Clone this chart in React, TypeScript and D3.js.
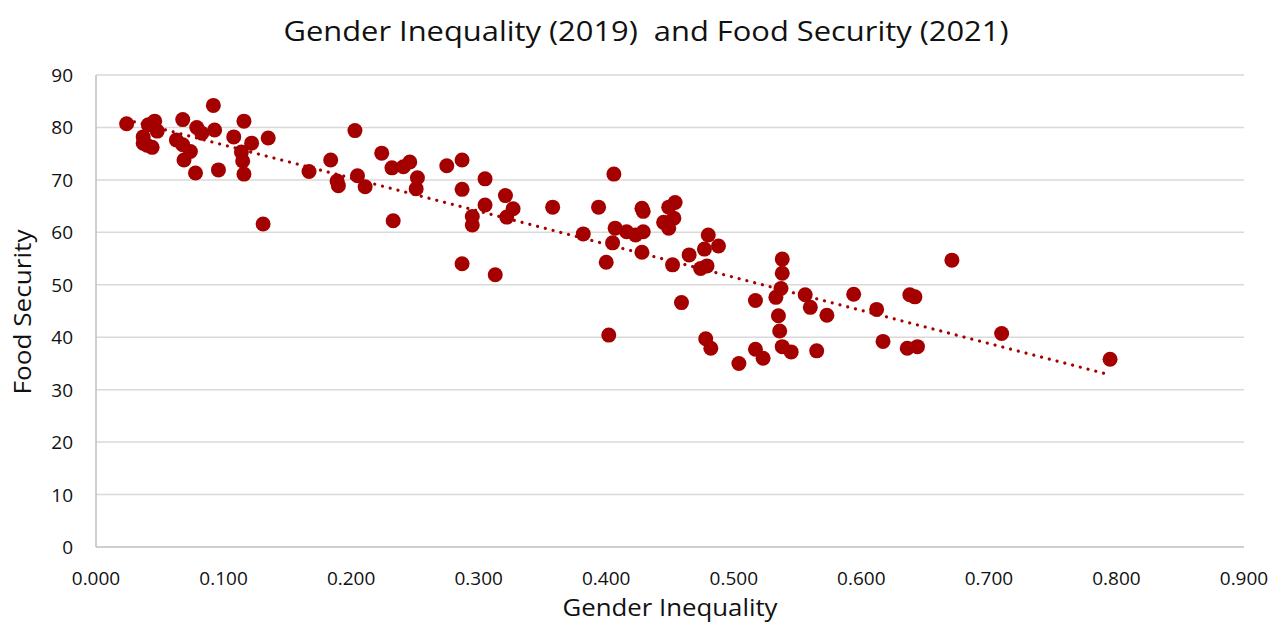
import React from "react";
import * as d3 from "d3";

const genderInequality: number[] = [
  0.024, 0.046, 0.048, 0.041, 0.037, 0.037, 0.044, 0.040, 0.068, 0.079,
  0.083, 0.063, 0.068, 0.074, 0.069, 0.078, 0.092, 0.093, 0.096, 0.108,
  0.116, 0.114, 0.115, 0.116, 0.122, 0.135, 0.131, 0.167, 0.184, 0.189,
  0.190, 0.203, 0.205, 0.211, 0.224, 0.232, 0.241, 0.246, 0.252, 0.251,
  0.233, 0.275, 0.287, 0.287, 0.305, 0.295, 0.295, 0.287, 0.313, 0.305,
  0.321, 0.327, 0.322, 0.358, 0.382, 0.406, 0.394, 0.407, 0.416, 0.423,
  0.429, 0.405, 0.400, 0.428, 0.428, 0.429, 0.454, 0.449, 0.453, 0.445,
  0.449, 0.480, 0.488, 0.477, 0.465, 0.452, 0.474, 0.479, 0.459, 0.402,
  0.478, 0.482, 0.504, 0.517, 0.517, 0.538, 0.538, 0.537, 0.533, 0.535,
  0.536, 0.538, 0.545, 0.523, 0.556, 0.560, 0.573, 0.565, 0.594, 0.612,
  0.617, 0.638, 0.642, 0.636, 0.644, 0.671, 0.710, 0.795,
];

const foodSecurity: number[] = [
  80.7, 81.2, 79.3, 80.5, 78.2, 77.0, 76.2, 76.6, 81.5, 80.0,
  78.9, 77.6, 76.7, 75.4, 73.8, 71.3, 84.2, 79.5, 71.9, 78.2,
  81.2, 75.3, 73.6, 71.1, 77.0, 78.0, 61.6, 71.6, 73.8, 69.8,
  68.9, 79.4, 70.8, 68.7, 75.1, 72.3, 72.5, 73.4, 70.4, 68.3,
  62.2, 72.7, 73.8, 68.2, 70.2, 63.0, 61.4, 54.0, 51.9, 65.2,
  67.0, 64.5, 62.9, 64.8, 59.7, 71.1, 64.8, 60.8, 60.1, 59.5,
  60.1, 58.0, 54.3, 56.2, 64.6, 64.0, 65.7, 64.8, 62.7, 61.9,
  60.8, 59.5, 57.4, 56.8, 55.7, 53.8, 53.1, 53.6, 46.6, 40.4,
  39.7, 37.9, 35.0, 37.7, 47.0, 54.9, 52.2, 49.3, 47.6, 44.1,
  41.2, 38.2, 37.2, 36.0, 48.1, 45.7, 44.2, 37.4, 48.2, 45.3,
  39.2, 48.1, 47.7, 37.9, 38.2, 54.7, 40.7, 35.8,
];

const xTicks: number[] = [0, 0.1, 0.2, 0.3, 0.4, 0.5, 0.6, 0.7, 0.8, 0.9];
const yTicks: number[] = [0, 10, 20, 30, 40, 50, 60, 70, 80, 90];

const title = "Gender Inequality (2019)  and Food Security (2021)";
const xLabel = "Gender Inequality";
const yLabel = "Food Security";

const W = 1275;
const H = 624;
const FONT = "'Open Sans', 'Noto Sans', sans-serif";
const RED = "#A50000";

export default function App() {
  const x = d3.scaleLinear().domain([0, 0.9]).range([96, 1244]);
  const y = d3.scaleLinear().domain([0, 90]).range([547, 75]);

  const pts = genderInequality.map((g, i) => ({ g, f: foodSecurity[i] }));

  // least squares linear trendline
  const mx = d3.mean(genderInequality) as number;
  const my = d3.mean(foodSecurity) as number;
  let sxy = 0;
  let sxx = 0;
  pts.forEach((p) => {
    sxy += (p.g - mx) * (p.f - my);
    sxx += (p.g - mx) * (p.g - mx);
  });
  const slope = sxy / sxx;
  const icpt = my - slope * mx;
  const [xmin, xmax] = d3.extent(genderInequality) as [number, number];
  const trend = d3.line<number>()
    .x((d) => x(d))
    .y((d) => y(icpt + slope * d))([xmin, xmax]);

  return (
    <svg
      width={W}
      height={H}
      style={{ position: "absolute", left: 0, top: 0, background: "#fff" }}
      fontFamily={FONT}
    >
      <rect x={0} y={0} width={W} height={H} fill="#fff" />
      <text
        x={646}
        y={41}
        textAnchor="middle"
        fontSize={28}
        fill="#111"
        textLength={725}
        lengthAdjust="spacingAndGlyphs"
        style={{ whiteSpace: "pre" }}
      >
        {title}
      </text>

      {/* gridlines */}
      {yTicks.map((t) => (
        <line
          key={"g" + t}
          x1={x(0)}
          x2={x(0.9)}
          y1={y(t)}
          y2={y(t)}
          stroke={t === 0 ? "#bfbfbf" : "#d9d9d9"}
          strokeWidth={1.5}
        />
      ))}
      <line x1={x(0)} x2={x(0)} y1={y(90)} y2={y(0)} stroke="#bfbfbf" strokeWidth={1.5} />

      {/* y tick labels */}
      {yTicks.map((t) => (
        <text
          key={"yt" + t}
          x={73}
          y={y(t) + 7}
          textAnchor="end"
          fontSize={19}
          fill="#111"
        >
          {t}
        </text>
      ))}

      {/* x tick labels */}
      {xTicks.map((t) => (
        <text
          key={"xt" + t}
          x={x(t)}
          y={585}
          textAnchor="middle"
          fontSize={19}
          fill="#111"
        >
          {d3.format(".3f")(t)}
        </text>
      ))}

      {/* axis titles */}
      <text
        x={670}
        y={616}
        textAnchor="middle"
        fontSize={24}
        fill="#111"
        textLength={215}
        lengthAdjust="spacingAndGlyphs"
      >
        {xLabel}
      </text>
      <text
        transform={`translate(31,312) rotate(-90)`}
        textAnchor="middle"
        fontSize={24}
        fill="#111"
        textLength={165}
        lengthAdjust="spacingAndGlyphs"
      >
        {yLabel}
      </text>

      {/* points */}
      {pts.map((p, i) => (
        <circle key={i} cx={x(p.g)} cy={y(p.f)} r={7.5} fill={RED} />
      ))}

      {/* trendline */}
      <path
        d={trend || ""}
        fill="none"
        stroke={RED}
        strokeWidth={3.2}
        strokeLinecap="round"
        strokeDasharray="0.01 8"
      />
    </svg>
  );
}
